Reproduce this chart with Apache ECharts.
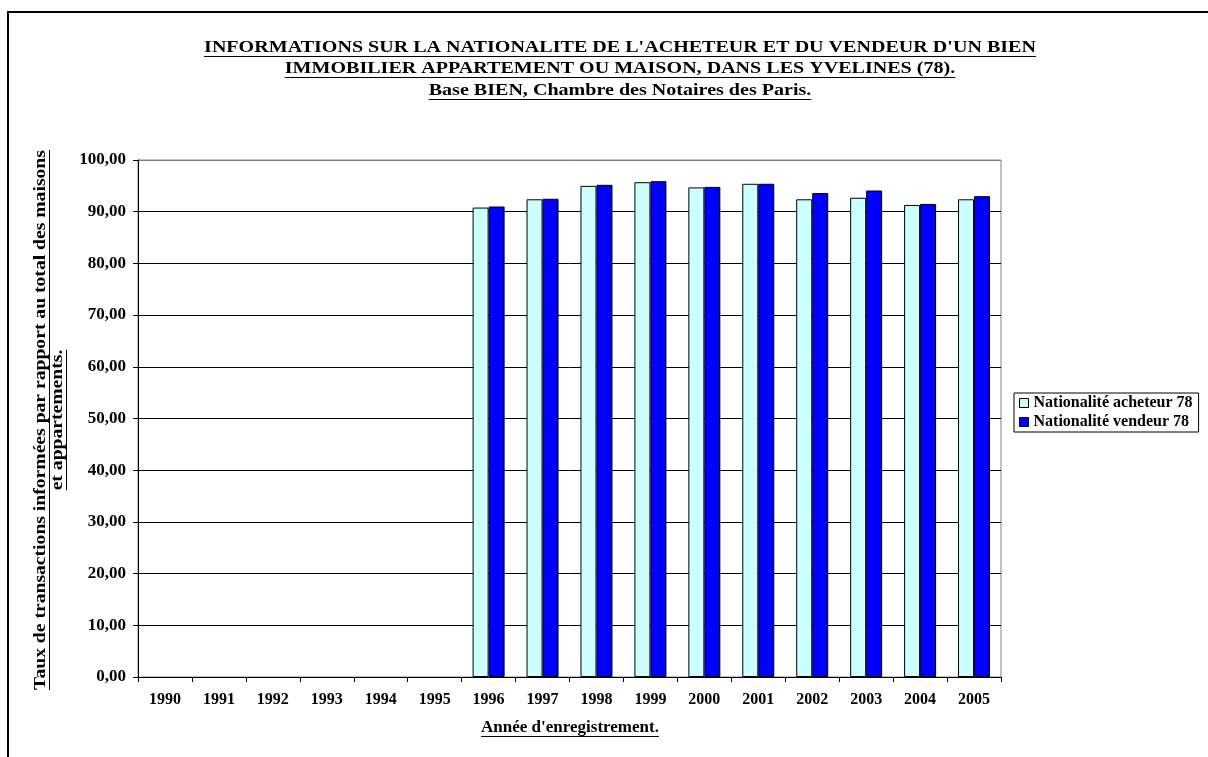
<!DOCTYPE html>
<html>
<head>
<meta charset="utf-8">
<script src="https://cdn.jsdelivr.net/npm/echarts@6/dist/echarts.min.js"></script>
<style>
  html, body { margin: 0; padding: 0; background: #fff; }
  #chart { width: 1208px; height: 757px; }
</style>
</head>
<body>
<div id="chart"></div>
<script>
// Years of registration
const years = ['1990', '1991', '1992', '1993', '1994', '1995', '1996', '1997',
               '1998', '1999', '2000', '2001', '2002', '2003', '2004', '2005'];
// Share of transactions with known buyer nationality (%)
const acheteur = [null, null, null, null, null, null, 90.8, 92.4, 95.0, 95.7, 94.7, 95.4, 92.4, 92.7, 91.3, 92.4];
// Share of transactions with known seller nationality (%)
const vendeur  = [null, null, null, null, null, null, 91.0, 92.5, 95.2, 95.9, 94.8, 95.4, 93.6, 94.1, 91.5, 93.0];

const seriesNames = ['Nationalité acheteur 78', 'Nationalité vendeur 78'];
const titleLines = [
  "INFORMATIONS SUR LA NATIONALITE DE L'ACHETEUR ET DU VENDEUR D'UN BIEN",
  "IMMOBILIER APPARTEMENT OU MAISON, DANS LES YVELINES (78).",
  "Base BIEN, Chambre des Notaires des Paris."
];
const yNameLines = [
  "Taux de transactions informées par rapport au total des maisons",
  "et appartements."
];
const xName = "Année d'enregistrement.";

const FONT_FAMILY = '"Liberation Serif", "Times New Roman", serif';
const measureCtx = document.createElement('canvas').getContext('2d');
function textWidth(text, size) {
  measureCtx.font = 'bold ' + size + 'px ' + FONT_FAMILY;
  return measureCtx.measureText(text).width;
}

// Bold underlined text, optionally widened along its baseline and rotated
// (rotation PI/2 makes it read bottom to top)
function underlined(text, cx, cy, size, rotation, stretch) {
  const w = textWidth(text, size);
  const off = Math.round(size * 0.47) + 0.5;
  return {
    type: 'group', x: cx, y: cy, rotation: rotation || 0,
    scaleX: stretch || 1, scaleY: 1,
    children: [
      { type: 'text',
        style: { text: text, font: 'bold ' + size + 'px ' + FONT_FAMILY, fill: '#000',
                 align: 'center', verticalAlign: 'middle',
                 textAlign: 'center', textVerticalAlign: 'middle' } },
      { type: 'line',
        shape: { x1: -w / 2, y1: off, x2: w / 2, y2: off },
        style: { stroke: '#000', lineWidth: 1 } }
    ]
  };
}

const chart = echarts.init(document.getElementById('chart'), null, { renderer: 'canvas' });

const graphics = [
  { type: 'rect', shape: { x: 8, y: 12, width: 1300, height: 800 },
    style: { fill: null, stroke: '#000', lineWidth: 2 }, silent: true },
  underlined(titleLines[0], 620, 48, 17, 0, 1.18),
  underlined(titleLines[1], 620, 69, 17, 0, 1.18),
  underlined(titleLines[2], 620, 91, 17, 0, 1.18),
  underlined(yNameLines[0], 41, 420, 17, Math.PI / 2, 1.155),
  underlined(yNameLines[1], 58, 420, 17, Math.PI / 2, 1.155),
  underlined(xName, 570, 728, 17)
];

// Horizontal grid lines are black; the top edge at 100 stays grey like the frame
const splitColors = ['#000', '#000', '#000', '#000', '#000', '#000',
                     '#000', '#000', '#000', '#000', '#808080'];

chart.setOption({
  animation: false,
  backgroundColor: '#fff',
  textStyle: { fontFamily: FONT_FAMILY },
  graphic: graphics,
  grid: { left: 138, right: 207, top: 160, bottom: 80, show: true,
          borderColor: '#808080', borderWidth: 1, backgroundColor: '#fff' },
  legend: {
    orient: 'vertical', left: 1014, top: 393,
    data: seriesNames,
    icon: 'rect', itemWidth: 9, itemHeight: 9, itemGap: 3,
    padding: [2, 6, 2, 5],
    borderColor: '#000', borderWidth: 1,
    itemStyle: { borderColor: '#000', borderWidth: 1 },
    textStyle: { fontFamily: FONT_FAMILY, fontWeight: 'bold', fontSize: 16,
                 lineHeight: 16, color: '#000' }
  },
  xAxis: {
    type: 'category', data: years, boundaryGap: true,
    axisLine: { lineStyle: { color: '#000', width: 1 } },
    axisTick: { show: true, length: 5, inside: false, alignWithLabel: false,
                lineStyle: { color: '#000' } },
    axisLabel: { color: '#000', fontWeight: 'bold', fontSize: 16, fontFamily: FONT_FAMILY,
                 margin: 15, interval: 0 },
    splitLine: { show: false }
  },
  yAxis: {
    type: 'value', min: 0, max: 100, interval: 10,
    axisLine: { show: true, lineStyle: { color: '#000', width: 1 } },
    axisTick: { show: true, length: 5, inside: false, lineStyle: { color: '#000' } },
    axisLabel: { color: '#000', fontWeight: 'bold', fontSize: 17, fontFamily: FONT_FAMILY,
                 margin: 12, formatter: v => v.toFixed(2).replace('.', ',') },
    splitLine: { show: true, lineStyle: { color: splitColors, width: 1 } }
  },
  series: [
    { name: seriesNames[0], type: 'bar', data: acheteur, barWidth: 16, barGap: '0%',
      itemStyle: { color: '#CCFFFF', borderColor: '#000', borderWidth: 1 } },
    { name: seriesNames[1], type: 'bar', data: vendeur, barWidth: 16, barGap: '0%',
      itemStyle: { color: '#0000FF', borderColor: '#000', borderWidth: 1 } }
  ]
});
</script>
</body>
</html>
